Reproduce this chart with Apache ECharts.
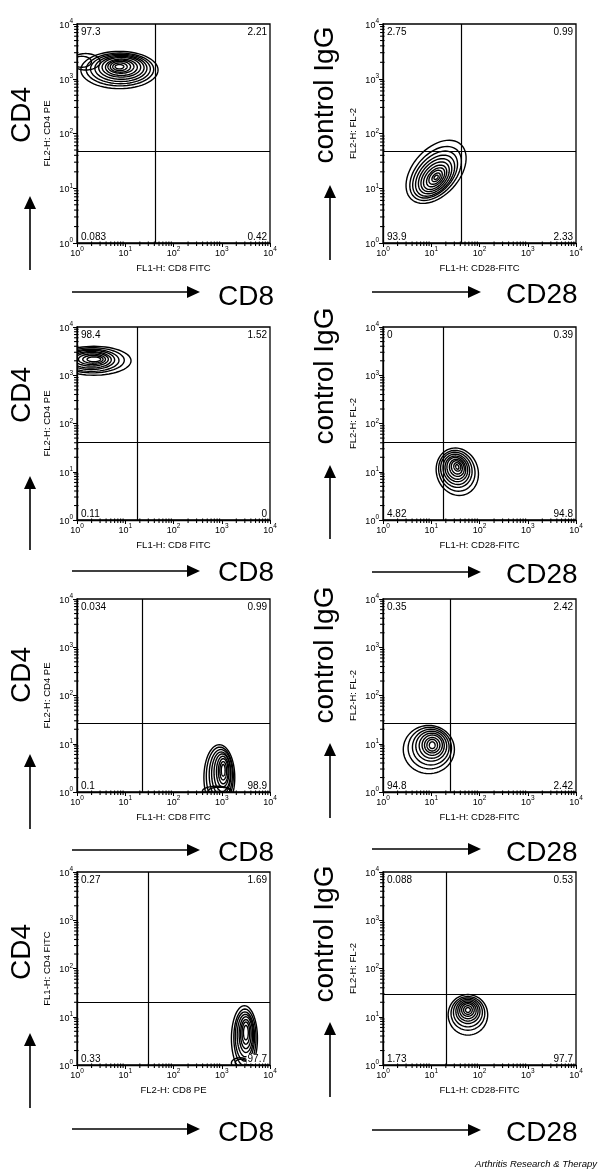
<!DOCTYPE html>
<html>
<head>
<meta charset="utf-8">
<script src="https://cdn.jsdelivr.net/npm/echarts@6.0.0/dist/echarts.min.js"></script>
<style>
  html, body { margin: 0; padding: 0; background: #fff; }
  #main { width: 600px; height: 1173px; }
</style>
</head>
<body>
<div id="main"></div>
<script>
// axes run in decades (log10 of channel value), labels are 10^n
const decadeExp = ['0', '1', '2', '3', '4']

const xNames = [
    'FL1-H: CD8 FITC', 'FL1-H: CD28-FITC',
    'FL1-H: CD8 FITC', 'FL1-H: CD28-FITC',
    'FL1-H: CD8 FITC', 'FL1-H: CD28-FITC',
    'FL2-H: CD8 PE', 'FL1-H: CD28-FITC'
]
const yNames = [
    'FL2-H: CD4 PE', 'FL2-H: FL-2',
    'FL2-H: CD4 PE', 'FL2-H: FL-2',
    'FL2-H: CD4 PE', 'FL2-H: FL-2',
    'FL1-H: CD4 FITC', 'FL2-H: FL-2'
]

// quadrant gate [x, y] in decades
const gates = [
    [1.62, 1.68], [1.62, 1.68],
    [1.24, 1.62], [1.24, 1.62],
    [1.35, 1.43], [1.39, 1.43],
    [1.47, 1.31], [1.31, 1.47]
]

// quadrant percentages: upper-left, upper-right, lower-left, lower-right
const quadPct = [
    ['97.3', '2.21', '0.083', '0.42'],
    ['2.75', '0.99', '93.9', '2.33'],
    ['98.4', '1.52', '0.11', '0'],
    ['0', '0.39', '4.82', '94.8'],
    ['0.034', '0.99', '0.1', '98.9'],
    ['0.35', '2.42', '94.8', '2.42'],
    ['0.27', '1.69', '0.33', '97.7'],
    ['0.088', '0.53', '1.73', '97.7']
]

// contour rings: [centre x, centre y, half-width, half-height, tilt deg], all in decades
const ringsR1L = [
    [0.88, 3.16, 0.80, 0.34, 0], [0.89, 3.17, 0.70, 0.30, 0], [0.90, 3.18, 0.62, 0.27, 0],
    [0.91, 3.19, 0.54, 0.24, 0], [0.92, 3.20, 0.47, 0.21, 0], [0.92, 3.21, 0.40, 0.18, 0],
    [0.92, 3.21, 0.33, 0.15, 0], [0.91, 3.22, 0.27, 0.12, 0], [0.90, 3.22, 0.21, 0.10, 0],
    [0.89, 3.22, 0.15, 0.07, 0], [0.88, 3.22, 0.09, 0.04, 0],
    [0.18, 3.31, 0.30, 0.15, 0], [0.10, 3.31, 0.20, 0.10, 0]
]
const ringsR1R = [
    [1.10, 1.30, 0.72, 0.45, 40], [1.09, 1.27, 0.62, 0.38, 40], [1.08, 1.25, 0.54, 0.33, 40],
    [1.08, 1.23, 0.47, 0.29, 40], [1.08, 1.22, 0.40, 0.25, 40], [1.08, 1.21, 0.34, 0.21, 40],
    [1.08, 1.20, 0.28, 0.17, 40], [1.09, 1.20, 0.22, 0.13, 40], [1.09, 1.20, 0.16, 0.10, 40],
    [1.10, 1.20, 0.10, 0.06, 40], [1.10, 1.20, 0.05, 0.03, 40]
]
const ringsR2L = [
    [0.35, 3.30, 0.77, 0.30, 0], [0.32, 3.31, 0.66, 0.26, 0], [0.30, 3.31, 0.57, 0.23, 0],
    [0.29, 3.32, 0.49, 0.20, 0], [0.29, 3.32, 0.42, 0.17, 0], [0.30, 3.33, 0.35, 0.14, 0],
    [0.31, 3.33, 0.28, 0.11, 0], [0.33, 3.33, 0.21, 0.08, 0], [0.35, 3.33, 0.14, 0.05, 0]
]
const ringsR2R = [
    [1.54, 1.00, 0.43, 0.50, 20], [1.53, 1.02, 0.37, 0.43, 20], [1.52, 1.04, 0.32, 0.37, 20],
    [1.52, 1.05, 0.27, 0.32, 20], [1.52, 1.06, 0.23, 0.27, 20], [1.52, 1.07, 0.19, 0.23, 20],
    [1.53, 1.08, 0.15, 0.18, 20], [1.53, 1.09, 0.11, 0.14, 20], [1.54, 1.10, 0.07, 0.09, 20],
    [1.54, 1.10, 0.03, 0.05, 20]
]
const ringsR3L = [
    [2.95, 0.30, 0.32, 0.68, 0], [2.96, 0.33, 0.28, 0.60, 0], [2.98, 0.36, 0.24, 0.52, 0],
    [2.99, 0.38, 0.20, 0.45, 0], [3.01, 0.40, 0.17, 0.39, 0], [3.02, 0.42, 0.13, 0.32, 0],
    [3.03, 0.43, 0.10, 0.26, 0], [3.03, 0.44, 0.07, 0.19, 0], [3.03, 0.45, 0.04, 0.12, 0],
    [2.90, 0.02, 0.30, 0.10, 0], [2.95, 0.03, 0.22, 0.07, 0]
]
const ringsR3R = [
    [0.95, 0.88, 0.53, 0.50, 0], [0.97, 0.91, 0.45, 0.43, 0], [0.99, 0.93, 0.38, 0.37, 0],
    [1.00, 0.95, 0.32, 0.31, 0], [1.01, 0.96, 0.26, 0.26, 0], [1.02, 0.97, 0.21, 0.21, 0],
    [1.02, 0.97, 0.16, 0.16, 0], [1.02, 0.97, 0.11, 0.12, 0], [1.02, 0.97, 0.06, 0.07, 0]
]
const ringsR4L = [
    [3.47, 0.55, 0.27, 0.68, 0], [3.48, 0.57, 0.23, 0.59, 0], [3.48, 0.59, 0.20, 0.51, 0],
    [3.49, 0.61, 0.17, 0.44, 0], [3.50, 0.63, 0.14, 0.37, 0], [3.50, 0.64, 0.11, 0.30, 0],
    [3.50, 0.66, 0.08, 0.23, 0], [3.50, 0.67, 0.05, 0.15, 0],
    [3.38, 0.04, 0.18, 0.11, 0], [3.40, 0.05, 0.12, 0.07, 0]
]
const ringsR4R = [
    [1.76, 1.04, 0.41, 0.42, 0], [1.76, 1.07, 0.35, 0.35, 0], [1.76, 1.09, 0.30, 0.30, 0],
    [1.76, 1.11, 0.25, 0.25, 0], [1.76, 1.12, 0.21, 0.21, 0], [1.76, 1.13, 0.17, 0.17, 0],
    [1.76, 1.14, 0.13, 0.13, 0], [1.76, 1.14, 0.09, 0.09, 0], [1.76, 1.14, 0.05, 0.05, 0]
]
const rings = [ringsR1L, ringsR1R, ringsR2L, ringsR2R, ringsR3L, ringsR3R, ringsR4L, ringsR4R]

const FONT = '"Liberation Sans", Arial, Helvetica, sans-serif'

// log-spaced minor ticks (2..9 within each decade)
let minorPos = []
for (let d = 0; d < 4; d++) {
    for (let k = 2; k <= 9; k++) minorPos.push(d + Math.log10(k))
}

const colLeft = [77, 383]
const rowTop = [24, 327, 599, 872]
const rowH = [219, 193, 193, 193]

const richLabel = {
    b: { fontSize: 9, fontFamily: FONT, color: '#000', lineHeight: 12, verticalAlign: 'bottom' },
    s: { fontSize: 6.5, fontFamily: FONT, color: '#000', lineHeight: 12, verticalAlign: 'top' }
}
const expFormatter = (v) => '{b|10}{s|' + decadeExp[Math.round(v)] + '}'

let grid = [], xAxis = [], yAxis = [], series = []

const renderRing = (params, api) => {
    let cx = api.value(0), cy = api.value(1), rx = api.value(2), ry = api.value(3)
    let a = api.value(4) * Math.PI / 180
    let pts = []
    for (let k = 0; k < 60; k++) {
        let t = k / 60 * 2 * Math.PI
        let ex = rx * Math.cos(t), ey = ry * Math.sin(t)
        pts.push(api.coord([cx + ex * Math.cos(a) - ey * Math.sin(a), cy + ex * Math.sin(a) + ey * Math.cos(a)]))
    }
    return {
        type: 'polygon',
        shape: { points: pts },
        style: { fill: 'none', stroke: '#000', lineWidth: 1.4 }
    }
}

// minor ticks: small filled bars across the bottom / left axis line
const renderMinorX = (params, api) => {
    let p = api.coord([api.value(0), api.value(1)])
    return { type: 'rect', shape: { x: p[0] - 0.5, y: p[1] - 1.5, width: 1.1, height: 4.5 }, style: { fill: '#000' } }
}
const renderMinorY = (params, api) => {
    let p = api.coord([api.value(0), api.value(1)])
    return { type: 'rect', shape: { x: p[0] - 3, y: p[1] - 0.5, width: 4.5, height: 1.1 }, style: { fill: '#000' } }
}

for (let i = 0; i < 8; i++) {
    let row = Math.floor(i / 2), col = i % 2
    grid.push({
        left: colLeft[col], top: rowTop[row], width: 193, height: rowH[row],
        show: true, borderColor: '#000', borderWidth: 1.3, backgroundColor: 'transparent'
    })
    xAxis.push({
        gridIndex: i, type: 'value', min: 0, max: 4, interval: 1, position: 'bottom',
        name: xNames[i], nameLocation: 'middle', nameGap: 20,
        nameTextStyle: { fontSize: 9.5, fontFamily: FONT, color: '#000' },
        axisLine: { lineStyle: { color: '#000', width: 1.3 } },
        axisTick: { length: 4, lineStyle: { color: '#000', width: 1 } },
        axisLabel: { formatter: expFormatter, rich: richLabel, margin: 3 },
        splitLine: { show: false }
    })
    yAxis.push({
        gridIndex: i, type: 'value', min: 0, max: 4, interval: 1, position: 'left',
        name: yNames[i], nameLocation: 'middle', nameGap: 25,
        nameTextStyle: { fontSize: 9.5, fontFamily: FONT, color: '#000' },
        axisLine: { lineStyle: { color: '#000', width: 1.3 } },
        axisTick: { length: 4, lineStyle: { color: '#000', width: 1 } },
        axisLabel: { formatter: expFormatter, rich: richLabel, margin: 4 },
        splitLine: { show: false }
    })

    // contours
    series.push({
        type: 'custom', xAxisIndex: i, yAxisIndex: i, clip: true, silent: true,
        data: rings[i], renderItem: renderRing
    })
    // log minor ticks
    series.push({
        type: 'custom', xAxisIndex: i, yAxisIndex: i, silent: true, clip: false, z: 6,
        data: minorPos.map(v => [v, 0.001]), renderItem: renderMinorX
    })
    series.push({
        type: 'custom', xAxisIndex: i, yAxisIndex: i, silent: true, clip: false, z: 6,
        data: minorPos.map(v => [0.001, v]), renderItem: renderMinorY
    })
    // quadrant gate lines
    series.push({
        type: 'line', xAxisIndex: i, yAxisIndex: i, data: [],
        markLine: {
            silent: true, symbol: ['none', 'none'], animation: false,
            label: { show: false },
            lineStyle: { color: '#000', type: 'solid', width: 1.2 },
            data: [{ xAxis: gates[i][0] }, { yAxis: gates[i][1] }]
        }
    })
    // quadrant percentages in the corners
    const pct = quadPct[i]
    series.push({
        type: 'custom', xAxisIndex: i, yAxisIndex: i, silent: true, z: 5,
        data: [[0, 4], [4, 4], [0, 0], [4, 0]],
        renderItem: (params, api) => {
            let p = api.coord([api.value(0), api.value(1)])
            let k = params.dataIndex
            let right = (k % 2) === 1, top = k < 2
            return {
                type: 'text',
                x: p[0] + (right ? -2 : 3),
                y: p[1] + (top ? 8 : -6),
                style: {
                    text: pct[k], fill: '#000', fontSize: 10, fontFamily: FONT,
                    align: right ? 'right' : 'left', verticalAlign: 'middle',
                    backgroundColor: '#fff', padding: [0, 1]
                }
            }
        }
    })
}

// big marker labels and arrows
const bigFont = '28px ' + FONT
let graphic = []
const vArrow = (x, tip, end) => [
    { type: 'line', shape: { x1: x, y1: end, x2: x, y2: tip + 8 }, style: { stroke: '#000', lineWidth: 1.6 } },
    { type: 'polygon', shape: { points: [[x, tip], [x - 6, tip + 13], [x + 6, tip + 13]] }, style: { fill: '#000' } }
]
const hArrow = (y, start, tip) => [
    { type: 'line', shape: { x1: start, y1: y, x2: tip - 8, y2: y }, style: { stroke: '#000', lineWidth: 1.6 } },
    { type: 'polygon', shape: { points: [[tip, y], [tip - 13, y - 6], [tip - 13, y + 6]] }, style: { fill: '#000' } }
]
const bigText = (text, x, y, rot, align) => ({
    type: 'text', x: x, y: y, rotation: rot,
    style: { text: text, font: bigFont, fill: '#000', align: align, verticalAlign: 'middle' }
})

const leftV = [[196, 270], [476, 550], [754, 829], [1033, 1108]]
const rightV = [[185, 260], [465, 539], [743, 818], [1022, 1097]]
const leftH = [292, 571, 850, 1129]
const rightH = [292, 572, 849, 1130]
const cd8Y = [297, 573, 853, 1133]
const cd28Y = [295, 575, 853, 1133]
const cd4Y = [115, 395, 675, 952]
const igY = [95, 376, 655, 934]

for (let r = 0; r < 4; r++) {
    graphic.push(...vArrow(30, leftV[r][0], leftV[r][1]))
    graphic.push(...vArrow(330, rightV[r][0], rightV[r][1]))
    graphic.push(...hArrow(leftH[r], 72, 200))
    graphic.push(...hArrow(rightH[r], 372, 481))
    graphic.push(bigText('CD8', 218, cd8Y[r], 0, 'left'))
    graphic.push(bigText('CD28', 506, cd28Y[r], 0, 'left'))
    graphic.push(bigText('CD4', 22, cd4Y[r], Math.PI / 2, 'center'))
    graphic.push(bigText('control IgG', 325, igY[r], Math.PI / 2, 'center'))
}
graphic.push({
    type: 'text', right: 3, top: 1159,
    style: { text: 'Arthritis Research & Therapy', font: 'italic 9.5px ' + FONT, fill: '#000' }
})

let option = {
    animation: false,
    backgroundColor: '#fff',
    grid: grid,
    xAxis: xAxis,
    yAxis: yAxis,
    series: series,
    graphic: graphic
}

let chart = echarts.init(document.getElementById('main'), null, { renderer: 'canvas' })
chart.setOption(option)
</script>
</body>
</html>
